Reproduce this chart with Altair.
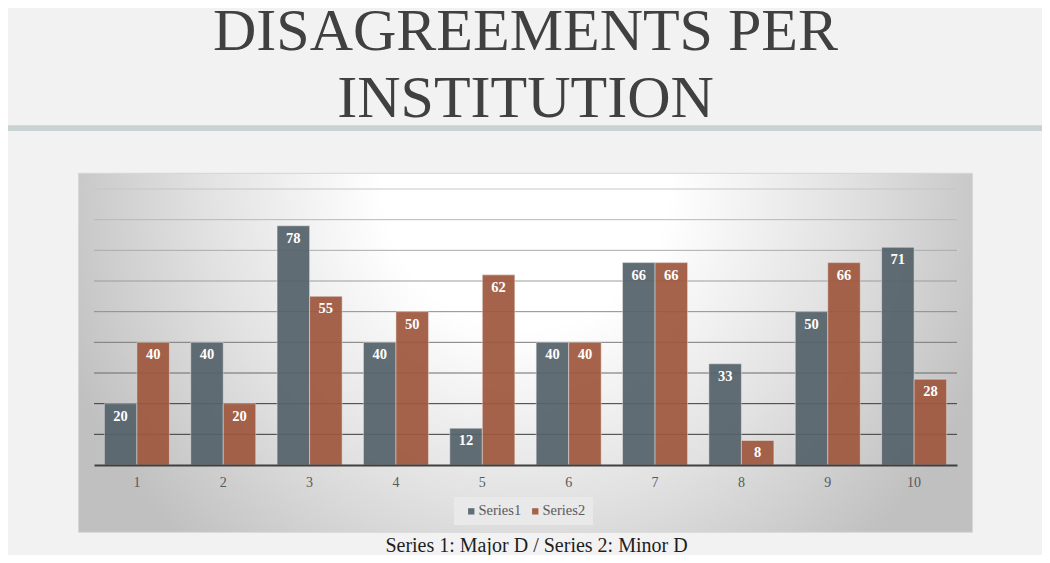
import altair as alt
import pandas as pd

# ---- data ----
institutions = [1, 2, 3, 4, 5, 6, 7, 8, 9, 10]
series1 = [20, 40, 78, 40, 12, 40, 66, 33, 50, 71]
series2 = [40, 20, 55, 50, 62, 40, 66, 8, 66, 28]
series_names = ["Series1", "Series2"]
grid_values = [10, 20, 30, 40, 50, 60, 70, 80, 90]
title_lines = ["DISAGREEMENTS PER", "INSTITUTION"]
subtitle_text = "Series 1: Major D / Series 2: Minor D"

rows = []
for inst, a, b in zip(institutions, series1, series2):
    rows.append({"institution": inst, "series": series_names[0], "value": a})
    rows.append({"institution": inst, "series": series_names[1], "value": b})
df = pd.DataFrame(rows)
grid_df = pd.DataFrame({"v": grid_values})

SERIF = "Liberation Serif"
W, H = 863, 276
BAR_COLORS = ["#56636b", "#a0583f"]

y_scale = alt.Scale(domain=[0, 90])
x_scale = alt.Scale(paddingInner=0.247, paddingOuter=0.12)

# chart-area background with a radial gradient (decoration)
bg = alt.Chart(alt.Data(values=[{"k": 1}])).mark_rect(
    fill={
        "gradient": "radial",
        "x1": 0.5, "y1": 0.313, "r1": 0.16,
        "x2": 0.5, "y2": 0.313, "r2": 0.55,
        "stops": [
            {"offset": 0, "color": "#ffffff"},
            {"offset": 0.5, "color": "#e2e2e2"},
            {"offset": 1, "color": "#c0c0c0"},
        ],
    },
    stroke="#d6d6d6",
    strokeWidth=1,
).encode(
    x=alt.value(-15.5), x2=alt.value(878.5),
    y=alt.value(-15.7), y2=alt.value(343.3),
)

# separator band under the title (decoration)
band = alt.Chart(alt.Data(values=[{"k": 1}])).mark_rect(fill="#c9d2d2").encode(
    x=alt.value(-86), x2=alt.value(948),
    y=alt.value(-63.7), y2=alt.value(-58),
)

grid_color_expr = (
    "datum.v <= 20 ? '#3a3a3a' : datum.v <= 30 ? '#6a6a6a' : datum.v <= 40 ? '#7a7a7a' : "
    "datum.v <= 50 ? '#8c8c8c' : datum.v <= 60 ? '#9c9c9c' : datum.v <= 70 ? '#ababab' : "
    "datum.v <= 80 ? '#b8b8b8' : '#c6c6c6'"
)
grid = alt.Chart(grid_df).mark_rule(strokeWidth=1).transform_calculate(
    gc=grid_color_expr
).encode(
    y=alt.Y("v:Q", scale=y_scale, axis=None),
    stroke=alt.Stroke("gc:N", scale=None),
)

x_enc = alt.X(
    "institution:O",
    scale=x_scale,
    axis=alt.Axis(
        title=subtitle_text,
        titleFont=SERIF,
        titleFontSize=20,
        titleFontWeight="normal",
        titleColor="#1e1e1e",
        titleBaseline="alphabetic",
        titleY=86,
        titleX=442,
        labelFont=SERIF,
        labelFontSize=14,
        labelColor="#595959",
        labelPadding=10,
        labelAngle=0,
        ticks=False,
        domainColor="#404040",
        domainWidth=2,
        zindex=1,
    ),
)

bars = alt.Chart(df).mark_bar(
    opacity=0.93, stroke="#eeeeee", strokeWidth=0.8, strokeOpacity=0.6
).encode(
    x=x_enc,
    xOffset=alt.XOffset("series:N", sort=series_names),
    y=alt.Y("value:Q", scale=y_scale, axis=None),
    color=alt.Color(
        "series:N",
        scale=alt.Scale(domain=series_names, range=BAR_COLORS),
        legend=alt.Legend(
            title=None,
            orient="none",
            legendX=360,
            legendY=308,
            direction="horizontal",
            symbolType="square",
            symbolSize=40,
            symbolStrokeWidth=0,
            symbolOffset=3,
            labelFont=SERIF,
            labelFontSize=14.5,
            labelColor="#595959",
            labelOffset=0,
            columnPadding=3,
            fillColor="#e9e9e9",
            padding=7,
        ),
    ),
)

labels = alt.Chart(df).mark_text(
    font=SERIF, fontSize=14.5, fontWeight="bold", color="white",
    baseline="middle", dy=13,
).encode(
    x=alt.X("institution:O", scale=x_scale),
    xOffset=alt.XOffset("series:N", sort=series_names),
    y=alt.Y("value:Q", scale=y_scale, axis=None),
    text=alt.Text("value:Q"),
)

chart = alt.layer(bg, band, grid, bars, labels).properties(
    width=W,
    height=H,
    title=alt.TitleParams(
        text=title_lines,
        font=SERIF,
        fontSize=60,
        fontWeight="normal",
        color="#404040",
        lineHeight=67,
        anchor="middle",
        frame="group",
        baseline="bottom",
        offset=43,
        dy=108,
    ),
    background="#f2f2f2",
    padding={"left": 86, "top": 181, "right": 85, "bottom": 90},
    autosize="none",
).configure_view(stroke=None)

chart.save("out.html", embed_options={"renderer": "svg", "actions": False})
